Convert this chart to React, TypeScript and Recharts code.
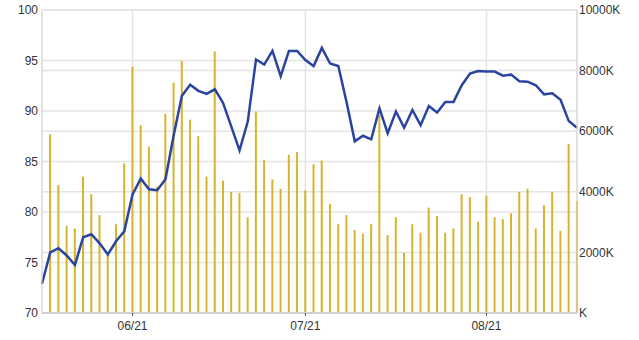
import React from 'react';
import { ComposedChart, Bar, Line, XAxis, YAxis, CartesianGrid } from 'recharts';

// one entry per trading day, May -> mid Aug
const price = [
  72.9, 76.0, 76.4, 75.7, 74.75, 77.5, 77.8, 76.9, 75.8, 77.1,
  78.1, 81.75, 83.3, 82.25, 82.15, 83.25, 87.6, 91.5, 92.6, 92.0,
  91.7, 92.15, 90.8, 88.45, 86.1, 88.95, 95.1, 94.6, 95.95, 93.45,
  95.95, 95.95, 95.05, 94.45, 96.25, 94.7, 94.45, 90.9, 87.0, 87.55,
  87.2, 90.25, 87.8, 89.95, 88.35, 90.1, 88.6, 90.5, 89.85, 90.9,
  90.9, 92.55, 93.7, 93.95, 93.9, 93.9, 93.5, 93.6, 92.95, 92.9,
  92.55, 91.65, 91.75, 91.1, 89.0, 88.35,
];

// volume in thousands
const volume = [
  0, 5900, 4220, 2880, 2790, 4500, 3920, 3230, 1910, 2930,
  4940, 8130, 6200, 5490, 4170, 6570, 7600, 8320, 6380, 5840,
  4500, 8630, 4370, 4000, 3960, 3160, 6650, 5050, 4410, 4100,
  5220, 5310, 4050, 4910, 5030, 3600, 2930, 3230, 2740, 2620,
  2930, 6540, 2570, 3160, 1990, 2930, 2650, 3480, 3200, 2650,
  2790, 3920, 3830, 3010, 3870, 3160, 3100, 3290, 4000, 4100,
  2790, 3560, 4000, 2710, 5580, 3700,
];

const monthTicks = [11, 32, 54];
const monthLabels = ['06/21', '07/21', '08/21'];
const priceTicks = [70, 75, 80, 85, 90, 95, 100];
const volumeTicks = [0, 2000, 4000, 6000, 8000, 10000];

const data = price.map((p, i) => ({ i, price: p, volume: volume[i] }));

const tickStyle = { fontFamily: 'Liberation Sans, Arial, sans-serif', fontSize: 12, fill: '#333' };

export default function App() {
  return (
    <div style={{ position: 'absolute', left: 0, top: 0, background: '#fff' }}>
      <ComposedChart width={639} height={340} data={data} margin={{ top: 10, right: 0, bottom: 0, left: 0 }}>
        <CartesianGrid yAxisId="left" stroke="#e4e4e4" strokeWidth={1.5} vertical={true} />
        <CartesianGrid yAxisId="right" stroke="#e4e4e4" strokeWidth={1.5} vertical={false} />
        <XAxis
          dataKey="i"
          type="number"
          domain={[0, 65]}
          ticks={monthTicks}
          tickFormatter={(v) => monthLabels[monthTicks.indexOf(v)] ?? ''}
          height={27}
          tick={tickStyle}
          tickSize={3}
          tickMargin={5}
          tickLine={{ stroke: '#555' }}
          axisLine={{ stroke: '#cfcfcf', strokeWidth: 2 }}
        />
        <YAxis
          yAxisId="left"
          orientation="left"
          domain={[70, 100]}
          ticks={priceTicks}
          width={42}
          tick={tickStyle}
          tickLine={false}
          tickSize={4}
          tickMargin={0}
          axisLine={{ stroke: '#d8d8d8' }}
        />
        <YAxis
          yAxisId="right"
          orientation="right"
          domain={[0, 10000]}
          ticks={volumeTicks}
          width={62}
          tick={tickStyle}
          tickFormatter={(v) => (v === 0 ? 'K' : `${v}K`)}
          tickLine={false}
          tickSize={2}
          tickMargin={0}
          axisLine={{ stroke: '#d8d8d8' }}
        />
        <Bar yAxisId="right" dataKey="volume" fill="#d7b42c" barSize={2} isAnimationActive={false} />
        <Line
          yAxisId="left"
          type="linear"
          dataKey="price"
          stroke="#2a44a0"
          strokeWidth={2.5}
          dot={false}
          isAnimationActive={false}
        />
      </ComposedChart>
    </div>
  );
}
